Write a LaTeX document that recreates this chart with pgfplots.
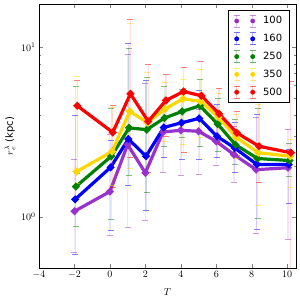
\documentclass[border=0pt]{standalone}
\usepackage{pgfplots}
\usepackage{pgfplotstable}
\pgfplotsset{compat=1.18}
\usepackage{fontspec}
\newfontfamily\legfont{DejaVu Sans}
\definecolor{purp}{RGB}{153,50,204}
\definecolor{blu}{RGB}{0,0,255}
\definecolor{grn}{RGB}{0,128,0}
\definecolor{yel}{RGB}{255,215,0}
\definecolor{rd}{RGB}{255,0,0}
\newcommand\legimg[1]{%
    \draw[#1, opacity=0.25, line width=1.2bp] (0bp,-6bp) -- (0bp,6bp) (16bp,-6bp) -- (16bp,6bp);
    \draw[#1, opacity=0.55, line width=0.8bp] (-3bp,6bp) -- (3bp,6bp) (-3bp,-6bp) -- (3bp,-6bp)
       (13bp,6bp) -- (19bp,6bp) (13bp,-6bp) -- (19bp,-6bp);
    \fill[#1] (0bp,0bp) circle (2bp) (16bp,0bp) circle (2bp);
}
\pgfplotstableread{
x y hi lo
-2 1.08 2.17 0.62
0 1.41 3.07 0.78
1 2.67 9.02 0.87
2 1.82 6.09 0.96
3 3.17 4.34 1.84
4 3.24 4.27 1.76
5 3.20 4.30 1.78
6 2.79 4.00 2.02
7 2.33 3.40 1.60
8.25 1.90 3.88 0.80
10.05 1.95 3.30 0.74
}\tpurple
\pgfplotstableread{
x y hi lo
-2 1.27 3.99 0.60
0 1.96 2.83 0.83
1 2.88 10.5 1.53
2 2.28 6.37 1.10
3 3.37 4.70 2.23
4 3.59 5.37 2.18
5 3.81 5.54 2.18
6 2.99 4.58 2.23
7 2.55 3.60 1.82
8.25 2.04 4.00 0.85
10.05 2.04 2.50 1.20
}\tblue
\pgfplotstableread{
x y hi lo
-2 1.51 5.87 0.885
0 2.28 4.34 0.97
1 3.35 9.87 1.76
2 3.27 6.63 1.39
3 3.83 5.87 2.59
4 4.19 5.61 2.93
5 4.52 6.43 2.59
6 3.53 5.02 2.44
7 2.67 3.74 2.04
8.25 2.21 4.34 0.98
10.05 2.15 2.70 1.74
}\tgreen
\pgfplotstableread{
x y hi lo
-2 1.85 6.72 1.57
0 2.43 4.40 1.53
1 4.19 13.8 1.92
2 3.60 7.10 1.76
3 4.34 6.23 2.80
4 4.97 6.43 2.67
5 4.80 7.43 2.93
6 3.88 5.37 2.73
7 2.95 4.00 2.20
8.25 2.39 4.58 1.17
10.05 2.28 2.88 1.50
}\tyellow
\pgfplotstableread{
x y hi lo
-2 4.52 6.37 1.80
0 3.15 4.54 1.50
1 5.32 14.6 2.23
2 3.66 7.98 1.84
3 4.86 6.88 3.00
4 5.49 7.63 2.39
5 5.18 8.23 3.13
6 4.05 5.75 2.73
7 3.13 4.19 2.30
8.25 2.61 4.76 1.59
10.05 2.39 6.33 0.45
}\tred
\pgfplotsset{
  ser/.style={line width=3.2bp, mark=*, mark size=1.9bp, mark options={solid},
    error bars/y dir=both, error bars/y explicit,
    error bars/error bar style={line width=1.2bp, opacity=0.12},
    error bars/error mark options={rotate=90, mark size=3bp, line width=0.8bp, opacity=0.5}},
}
\begin{document}
\begin{tikzpicture}
\path[use as bounding box] (-39bp,-34bp) rectangle (261bp,268bp);
\begin{axis}[
  scale only axis, width=257bp, height=264bp,
  at={(0,0)}, anchor=south west,
  xmin=-4, xmax=10.5,
  ymode=log, ymin=0.5, ymax=18,
  xtick={-4,-2,0,2,4,6,8,10},
  ytick={1,10},
  major tick length=4bp, minor tick length=2bp,
  axis line style={line width=0.8bp},
  xlabel={$T$},
  ylabel={$r_e^\lambda$ {\legfont (kpc)}},
  xlabel style={at={(axis description cs:0.5,-0.0898)}, anchor=center},
  ylabel style={at={(axis description cs:-0.113,0.5)}, anchor=center},
  legend style={at={(rel axis cs:1,1)}, anchor=north east, xshift=-6.5bp, yshift=-6bp,
    draw=black, line width=0.8bp, font=\legfont, row sep=4.6bp,
    inner xsep=5bp, inner ysep=4bp,
    /tikz/every odd column/.append style={column sep=5bp}},
  legend cell align=left,
]
\addplot[forget plot, purp, ser] table[x=x, y=y, y error plus expr=\thisrow{hi}-\thisrow{y}, y error minus expr=\thisrow{y}-\thisrow{lo}] {\tpurple};
\addplot[forget plot, blu, ser] table[x expr=\thisrow{x}+0.04, y=y, y error plus expr=\thisrow{hi}-\thisrow{y}, y error minus expr=\thisrow{y}-\thisrow{lo}] {\tblue};
\addplot[forget plot, grn, ser] table[x expr=\thisrow{x}+0.08, y=y, y error plus expr=\thisrow{hi}-\thisrow{y}, y error minus expr=\thisrow{y}-\thisrow{lo}] {\tgreen};
\addplot[forget plot, yel, ser] table[x expr=\thisrow{x}+0.12, y=y, y error plus expr=\thisrow{hi}-\thisrow{y}, y error minus expr=\thisrow{y}-\thisrow{lo}] {\tyellow};
\addplot[forget plot, rd, ser] table[x expr=\thisrow{x}+0.16, y=y, y error plus expr=\thisrow{hi}-\thisrow{y}, y error minus expr=\thisrow{y}-\thisrow{lo}] {\tred};
\addlegendimage{legend image code/.code={\legimg{purp}}}
\addlegendentry{100}
\addlegendimage{legend image code/.code={\legimg{blu}}}
\addlegendentry{160}
\addlegendimage{legend image code/.code={\legimg{grn}}}
\addlegendentry{250}
\addlegendimage{legend image code/.code={\legimg{yel}}}
\addlegendentry{350}
\addlegendimage{legend image code/.code={\legimg{rd}}}
\addlegendentry{500}
\end{axis}
\end{tikzpicture}
\end{document}
